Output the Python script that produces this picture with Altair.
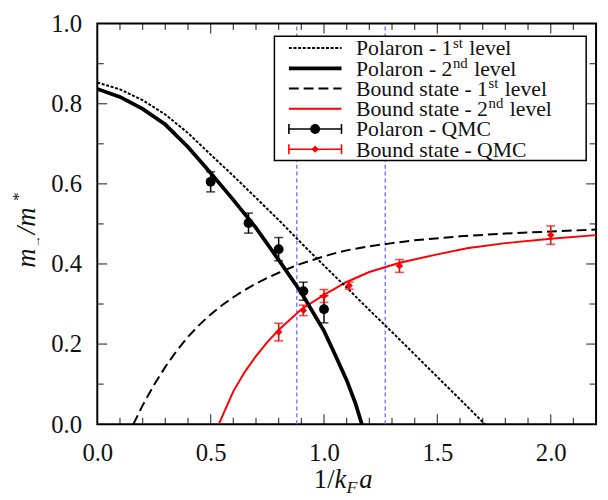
import altair as alt
import pandas as pd

# ---------------- data ----------------
pol1_x = [0, 0.1, 0.2, 0.3, 0.4, 0.5, 0.6, 0.7, 0.8, 0.9, 1.0, 1.1, 1.2, 1.3, 1.4, 1.5, 1.6, 1.71]
pol1_y = [0.853, 0.836, 0.809, 0.773, 0.727, 0.673, 0.62, 0.565, 0.51, 0.452, 0.396, 0.341, 0.285, 0.23, 0.174, 0.118, 0.062, 0.0]

pol2_x = [0, 0.1, 0.2, 0.3, 0.4, 0.5, 0.6, 0.7, 0.8, 0.9, 1.0, 1.05, 1.1, 1.14, 1.167]
pol2_y = [0.837, 0.817, 0.787, 0.748, 0.692, 0.627, 0.56, 0.49, 0.41, 0.328, 0.233, 0.172, 0.11, 0.05, 0.0]

bs1_x = [0.159, 0.2, 0.25, 0.3, 0.35, 0.4, 0.45, 0.5, 0.55, 0.6, 0.65, 0.7, 0.75, 0.8, 0.85, 0.9,
         0.95, 1.0, 1.05, 1.1, 1.2, 1.3, 1.4, 1.6, 1.8, 2.0, 2.2]
bs1_y = [0.0, 0.047, 0.098, 0.143, 0.183, 0.218, 0.248, 0.274, 0.297, 0.317, 0.335, 0.351, 0.365, 0.378, 0.39, 0.401,
         0.41, 0.419, 0.427, 0.434, 0.444, 0.452, 0.459, 0.469, 0.476, 0.481, 0.486]

bs2_x = [0.536, 0.6, 0.65, 0.7, 0.75, 0.8, 0.9, 1.0, 1.1, 1.2, 1.334, 1.5, 1.631, 1.8, 2.0, 2.2]
bs2_y = [0.0, 0.082, 0.13, 0.17, 0.205, 0.235, 0.287, 0.323, 0.355, 0.38, 0.403, 0.424, 0.439, 0.452, 0.463, 0.472]

qmc_pol_x = [0.5, 0.667, 0.8, 0.909, 1.0]
qmc_pol_y = [0.605, 0.502, 0.437, 0.332, 0.287]
qmc_pol_e = [0.025, 0.025, 0.029, 0.0225, 0.034]

qmc_bs_x = [0.8, 0.909, 1.0, 1.111, 1.333, 2.0]
qmc_bs_y = [0.23, 0.284, 0.32, 0.346, 0.395, 0.472]
qmc_bs_e = [0.022, 0.013, 0.016, 0.009, 0.016, 0.023]

vlines_x = [0.88, 1.27]

x_labels = [0.0, 0.5, 1.0, 1.5, 2.0]
y_labels = [0.0, 0.2, 0.4, 0.6, 0.8, 1.0]
x_major = [0.5, 1.0, 1.5, 2.0]
x_minor = [0.1, 0.2, 0.3, 0.4, 0.6, 0.7, 0.8, 0.9, 1.1, 1.2, 1.3, 1.4, 1.6, 1.7, 1.8, 1.9, 2.1]
y_major = [0.2, 0.4, 0.6, 0.8]
y_minor = [0.1, 0.3, 0.5, 0.7, 0.9]

leg_main = ["Polaron - 1", "Polaron - 2", "Bound state - 1", "Bound state - 2",
            "Polaron - QMC", "Bound state - QMC"]
leg_sup = ["st", "nd", "st", "nd", "", ""]
leg_tail = ["level", "level", "level", "level", "", ""]

# ---------------- style ----------------
W, H = 505.5, 406
FONT = "Liberation Serif"
TXT = "#111111"
RED = "#ff0000"
BLUE = "#6b6bff"

xsc = alt.Scale(domain=[0, 2.2], nice=False, zero=False)
ysc = alt.Scale(domain=[0, 1.0], nice=False, zero=False)

xaxis = alt.Axis(values=x_labels, format=".1f", title=None, ticks=False, domain=False,
                 grid=False, labelFont=FONT, labelFontSize=25, labelColor=TXT,
                 labelPadding=17, tickSize=0, labelFlush=False, labelOverlap=False)
yaxis = alt.Axis(values=y_labels, format=".1f", title=None, ticks=False, domain=False,
                 grid=False, labelFont=FONT, labelFontSize=25, labelColor=TXT,
                 labelPadding=16, tickSize=0, labelFlush=False, labelOverlap=False)


def X(field):
    return alt.X(f"{field}:Q", scale=xsc, axis=xaxis)


def Y(field):
    return alt.Y(f"{field}:Q", scale=ysc, axis=yaxis)


def df(**cols):
    return pd.DataFrame(cols)


layers = []

# blue dashed verticals
layers.append(
    alt.Chart(df(x=vlines_x, y=[0.0] * len(vlines_x), y2=[1.0] * len(vlines_x)))
    .mark_rule(color=BLUE, strokeDash=[4, 3], strokeWidth=1.3)
    .encode(x=X("x"), y=Y("y"), y2="y2:Q")
)

# theory curves
layers.append(alt.Chart(df(x=bs1_x, y=bs1_y)).mark_line(color="black", strokeWidth=2, strokeDash=[10, 5], clip=True)
              .encode(x=X("x"), y=Y("y")))
layers.append(alt.Chart(df(x=bs2_x, y=bs2_y)).mark_line(color=RED, strokeWidth=2, clip=True)
              .encode(x=X("x"), y=Y("y")))
layers.append(alt.Chart(df(x=pol1_x, y=pol1_y)).mark_line(color="black", strokeWidth=2, strokeDash=[3, 1.7], clip=True)
              .encode(x=X("x"), y=Y("y")))
layers.append(alt.Chart(df(x=pol2_x, y=pol2_y)).mark_line(color="black", strokeWidth=3.8, clip=True)
              .encode(x=X("x"), y=Y("y")))

# QMC points with error bars
for xs, ys, es, col, shape, size in [
    (qmc_pol_x, qmc_pol_y, qmc_pol_e, "black", "circle", 100),
    (qmc_bs_x, qmc_bs_y, qmc_bs_e, RED, "diamond", 55),
]:
    d = df(x=xs, y=ys, lo=[a - b for a, b in zip(ys, es)], hi=[a + b for a, b in zip(ys, es)])
    base = alt.Chart(d)
    layers.append(base.mark_rule(color=col, strokeWidth=1.5).encode(x=X("x"), y=Y("lo"), y2="hi:Q"))
    layers.append(base.mark_tick(color=col, orient="horizontal", size=9, thickness=1.6).encode(x=X("x"), y=Y("lo")))
    layers.append(base.mark_tick(color=col, orient="horizontal", size=9, thickness=1.6).encode(x=X("x"), y=Y("hi")))
    layers.append(base.mark_point(color=col, shape=shape, size=size, filled=True, opacity=1).encode(x=X("x"), y=Y("y")))

# inward axis ticks (bottom/top, left/right)
for vals, ln in [(x_major, 10), (x_minor, 6.5)]:
    b = alt.Chart(df(v=vals))
    layers.append(b.mark_tick(color="black", orient="vertical", size=ln, thickness=1.3)
                  .encode(x=X("v"), y=alt.value(H - ln / 2)))
    layers.append(b.mark_tick(color="black", orient="vertical", size=ln, thickness=1.3)
                  .encode(x=X("v"), y=alt.value(ln / 2)))
for vals, ln in [(y_major, 10), (y_minor, 6.5)]:
    b = alt.Chart(df(v=vals))
    layers.append(b.mark_tick(color="black", orient="horizontal", size=ln, thickness=1.3)
                  .encode(y=Y("v"), x=alt.value(ln / 2)))
    layers.append(b.mark_tick(color="black", orient="horizontal", size=ln, thickness=1.3)
                  .encode(y=Y("v"), x=alt.value(W - ln / 2)))

# ---------------- legend ----------------
TIMES = {' ': 250, '-': 333, '1': 500, '2': 500, 'P': 556, 'o': 500, 'l': 278, 'a': 444,
         'r': 333, 'n': 500, 'B': 667, 'u': 500, 'd': 500, 's': 389, 't': 278, 'e': 444,
         'v': 500, 'Q': 722, 'M': 889, 'C': 667}


def tw(s, fs):
    return sum(TIMES.get(c, 500) for c in s) * fs / 1000.0


LF, SF = 22, 15
one = alt.Chart(df(a=[0]))
layers.append(one.mark_rect(fill="white", stroke="black", strokeWidth=1.5).encode(
    x=alt.value(179.5), x2=alt.value(495.5), y=alt.value(12.8), y2=alt.value(138.8)))

row_y = [24.8, 45.3, 65.8, 86.3, 106.8, 127.3]
lx0, lx1, lmid, tx = 194.2, 247.5, 220.8, 262.2
line_styles = [
    dict(color="black", strokeWidth=2, strokeDash=[3, 1.7]),
    dict(color="black", strokeWidth=3.8),
    dict(color="black", strokeWidth=2, strokeDash=[10, 5]),
    dict(color=RED, strokeWidth=2),
    dict(color="black", strokeWidth=1.5),
    dict(color=RED, strokeWidth=1.5),
]
for i in range(6):
    ry = row_y[i]
    layers.append(one.mark_rule(**line_styles[i]).encode(
        x=alt.value(lx0), x2=alt.value(lx1), y=alt.value(ry)))
    if i >= 4:
        col = "black" if i == 4 else RED
        for cx in (lx0, lx1):
            layers.append(one.mark_rule(color=col, strokeWidth=1.6).encode(
                x=alt.value(cx), y=alt.value(ry - 5), y2=alt.value(ry + 5)))
        layers.append(one.mark_point(color=col, filled=True, opacity=1,
                                     shape="circle" if i == 4 else "diamond",
                                     size=100 if i == 4 else 55).encode(
            x=alt.value(lmid), y=alt.value(ry)))
    base_y = ry + 7.5
    layers.append(one.mark_text(text=leg_main[i], font=FONT, fontSize=LF, color=TXT,
                                align="left", baseline="alphabetic").encode(
        x=alt.value(tx), y=alt.value(base_y)))
    if leg_sup[i]:
        sx = tx + tw(leg_main[i], LF) + 0.5
        layers.append(one.mark_text(text=leg_sup[i], font=FONT, fontSize=SF, color=TXT,
                                    align="left", baseline="alphabetic").encode(
            x=alt.value(sx), y=alt.value(base_y - 8)))
        lx = sx + tw(leg_sup[i], SF) + tw(" ", LF) + 1
        layers.append(one.mark_text(text=leg_tail[i], font=FONT, fontSize=LF, color=TXT,
                                    align="left", baseline="alphabetic").encode(
            x=alt.value(lx), y=alt.value(base_y)))

# ---------------- axis titles ----------------
TF = 27
xt = [
    ("1/", "normal", TF, "right", 240.5, 471.0),
    ("k", "italic", TF, "left", 240.5, 471.0),
    ("F", "italic", 18, "left", 252.5, 475.5),
    ("a", "italic", TF, "left", 265.5, 471.0),
]
for s, st, fs, al, px, py in xt:
    layers.append(one.mark_text(text=s, font=FONT, fontSize=fs, fontStyle=st, color=TXT,
                                align=al, baseline="alphabetic").encode(
        x=alt.value(px), y=alt.value(py)))

yt = [
    ("m", "italic", TF, -63.5, 247.5),
    ("/m", "italic", TF, -63.5, 213.5),
    ("*", "normal", 17, -74.5, 179.5),
]
for s, st, fs, px, py in yt:
    layers.append(one.mark_text(text=s, font=FONT, fontSize=fs, fontStyle=st, color=TXT,
                                align="left", baseline="alphabetic", angle=270).encode(
        x=alt.value(px), y=alt.value(py)))
layers.append(one.mark_text(text="↑", font=FONT, fontSize=13, color=TXT,
                            align="center", baseline="middle").encode(
    x=alt.value(-60), y=alt.value(220)))

chart = (
    alt.layer(*layers)
    .properties(width=W, height=H, autosize=alt.AutoSizeParams(type="none"),
                padding={"left": 90.5, "top": 12.5, "right": 4, "bottom": 73})
    .configure_view(stroke="black", strokeWidth=2)
)

chart.save("out.html", embed_options={"renderer": "svg", "actions": False})
